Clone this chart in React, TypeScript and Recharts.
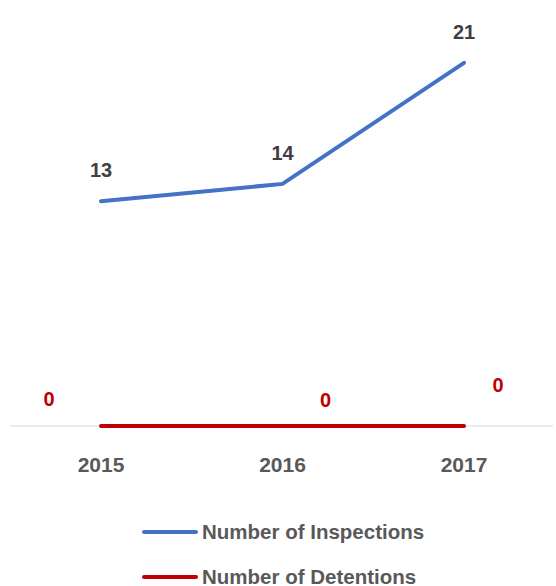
import React from "react";
import {
  LineChart,
  Line,
  XAxis,
  YAxis,
  CartesianGrid,
  LabelList,
  Legend,
} from "recharts";

const years = ["2015", "2016", "2017"];
const inspections = [13, 14, 21];
const detentions = [0, 0, 0];

// manual nudges of the red data labels, as in the source chart
const detentionLabelShift = [
  { dx: -52, dy: -27 },
  { dx: 43, dy: -26 },
  { dx: 34, dy: -41 },
];

const BLUE = "#4472C4";
const RED = "#C00000";
const FONT = '"Liberation Sans", Arial, sans-serif';

const data = years.map((year, i) => ({
  year,
  inspections: inspections[i],
  detentions: detentions[i],
}));

const InspectionLabel = (props: any) => {
  const { x, y, value } = props;
  return (
    <text
      x={x}
      y={y - 31}
      textAnchor="middle"
      dominantBaseline="central"
      fill="#404040"
      fontSize={20}
      fontWeight="bold"
      fontFamily={FONT}
    >
      {value}
    </text>
  );
};

const DetentionLabel = (props: any) => {
  const { x, y, value, index } = props;
  const s = detentionLabelShift[index] || { dx: 0, dy: -20 };
  return (
    <text
      x={x + s.dx}
      y={y + s.dy}
      textAnchor="middle"
      dominantBaseline="central"
      fill={RED}
      fontSize={20}
      fontWeight="bold"
      fontFamily={FONT}
    >
      {value}
    </text>
  );
};

const legendItems = [
  { label: "Number of Inspections", color: BLUE },
  { label: "Number of Detentions", color: RED },
];

const LegendContent = () => (
  <div style={{ paddingLeft: 143 }}>
    {legendItems.map((item) => (
      <div
        key={item.label}
        style={{ display: "flex", alignItems: "center", height: 45 }}
      >
        <svg width={56} height={6} style={{ marginLeft: -1 }}>
          <line
            x1={2}
            y1={3}
            x2={54}
            y2={3}
            stroke={item.color}
            strokeWidth={4}
            strokeLinecap="round"
          />
        </svg>
        <span
          style={{
            marginLeft: 4,
            fontFamily: FONT,
            fontWeight: "bold",
            fontSize: 20.5,
            color: "#595959",
          }}
        >
          {item.label}
        </span>
      </div>
    ))}
  </div>
);

export default function App() {
  return (
    <div
      style={{
        position: "absolute",
        left: 0,
        top: 0,
        width: 556,
        height: 586,
        background: "#fff",
      }}
    >
      <LineChart
        width={556}
        height={586}
        data={data}
        margin={{ top: 11, right: 3, left: 10, bottom: 100 }}
      >
        {/* only the zero line, so it sits under the series */}
        <CartesianGrid
          vertical={false}
          horizontalValues={[0]}
          stroke="#d9d9d9"
          strokeWidth={1}
        />
        <XAxis
          dataKey="year"
          padding={{ left: 91, right: 89 }}
          axisLine={false}
          tickLine={false}
          tickMargin={25}
          height={60}
          tick={{
            fill: "#595959",
            fontSize: 21,
            fontWeight: "bold",
            fontFamily: FONT,
          }}
        />
        <YAxis hide domain={[0, 24]} />
        <Legend
          layout="horizontal"
          verticalAlign="middle"
          align="center"
          wrapperStyle={{ top: 509, left: 0, width: 556 }}
          content={<LegendContent />}
        />
        <Line
          dataKey="inspections"
          name="Number of Inspections"
          stroke={BLUE}
          strokeWidth={4}
          strokeLinecap="round"
          dot={false}
          type="linear"
          isAnimationActive={false}
        >
          <LabelList dataKey="inspections" content={<InspectionLabel />} />
        </Line>
        <Line
          dataKey="detentions"
          name="Number of Detentions"
          stroke={RED}
          strokeWidth={4}
          strokeLinecap="round"
          dot={false}
          type="linear"
          isAnimationActive={false}
        >
          <LabelList dataKey="detentions" content={<DetentionLabel />} />
        </Line>
      </LineChart>
    </div>
  );
}
